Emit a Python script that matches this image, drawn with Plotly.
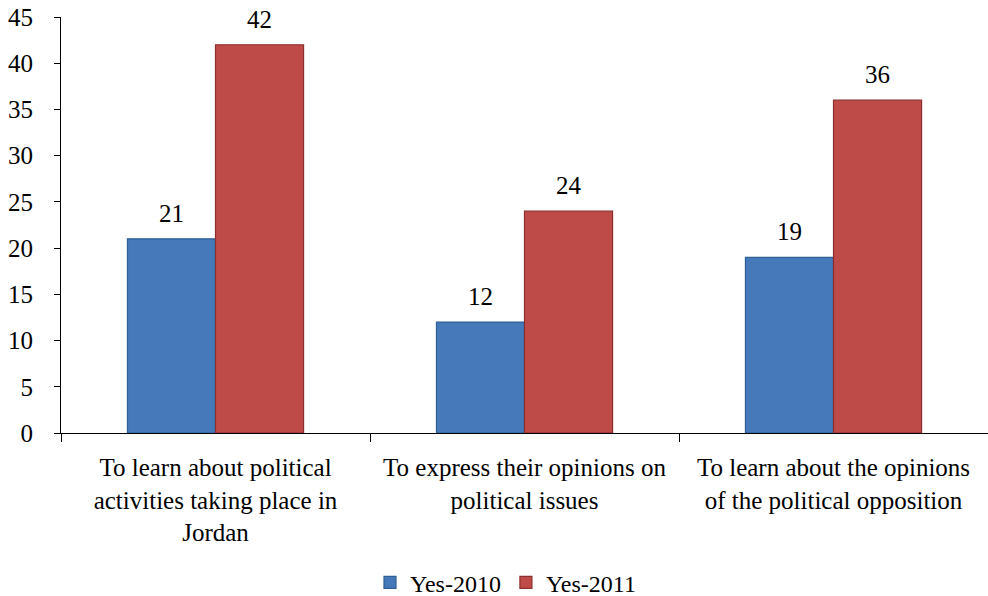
import plotly.graph_objects as go

categories = [
    "To learn about political<br>activities taking place in<br>Jordan",
    "To express their opinions on<br>political issues",
    "To learn about the opinions<br>of the political opposition",
]
series_names = ["Yes-2010", "Yes-2011"]
values_2010 = [21, 12, 19]
values_2011 = [42, 24, 36]
y_ticks = [0, 5, 10, 15, 20, 25, 30, 35, 40, 45]

FONT = "Liberation Serif, Times New Roman, serif"
FS = 25

fig = go.Figure()
fig.add_trace(go.Bar(
    x=categories, y=values_2010, name=series_names[0],
    marker=dict(color="#4579ba", line=dict(color="#2f5f93", width=1.2)),
))
fig.add_trace(go.Bar(
    x=categories, y=values_2011, name=series_names[1],
    marker=dict(color="#bf4b48", line=dict(color="#8a2f2d", width=1.2)),
))

# data labels as annotations over each bar
for vals, shift in ((values_2010, -44), (values_2011, 44)):
    for c, v in zip(categories, vals):
        fig.add_annotation(x=c, y=v, xref="x", yref="y", text=str(v), showarrow=False,
                           xshift=shift, yshift=10, yanchor="bottom",
                           font=dict(family=FONT, size=FS, color="black"))

fig.update_layout(
    width=988, height=596,
    margin=dict(l=61, r=0, t=17, b=163, autoexpand=False),
    paper_bgcolor="white", plot_bgcolor="white",
    barmode="group", bargap=0.43, bargroupgap=0,
    font=dict(family=FONT, size=FS, color="black"),
    showlegend=True,
    legend=dict(orientation="h", x=0.4795, xanchor="center", y=-0.36, yanchor="middle",
                font=dict(family=FONT, size=24), itemwidth=30, tracegroupgap=0),
)
fig.update_xaxes(
    showline=True, linecolor="black", linewidth=1, automargin=False,
    ticks="outside", ticklen=8, tickcolor="black", tickson="boundaries",
    tickfont=dict(family=FONT, size=FS), showgrid=False, ticklabelstandoff=12,
)
fig.update_yaxes(
    range=[0, 45], tickvals=y_ticks, showline=True, linecolor="black", linewidth=1,
    automargin=False,
    ticks="outside", ticklen=6, tickcolor="black", showgrid=False, zeroline=False,
    tickfont=dict(family=FONT, size=FS), ticklabelstandoff=16,
)

fig.write_html("out.html")
